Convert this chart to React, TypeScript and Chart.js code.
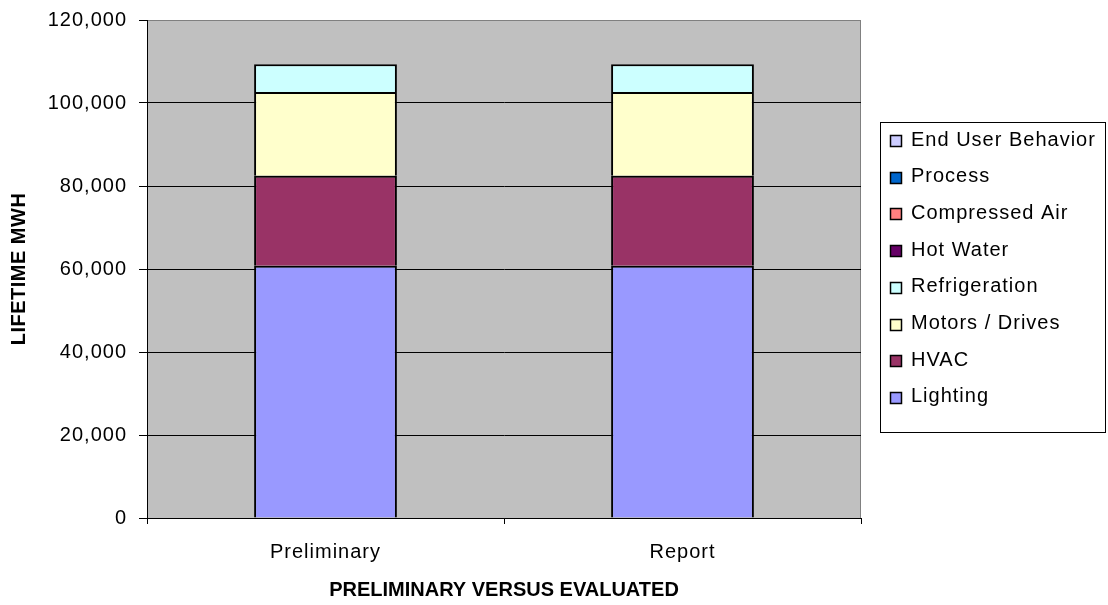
import React, { useEffect, useRef } from "react";
import { Chart, registerables } from "chart.js";

Chart.register(...registerables);

// ---- data ----
const categories = ["Preliminary", "Report"];
const seriesNames = [
  "Lighting",
  "HVAC",
  "Motors / Drives",
  "Refrigeration",
  "Hot Water",
  "Compressed Air",
  "Process",
  "End User Behavior",
];
const seriesColors = [
  "#9999FF",
  "#993366",
  "#FFFFCC",
  "#CCFFFF",
  "#660066",
  "#FF8080",
  "#0066CC",
  "#CCCCFF",
];
const lighting = [60760, 60760];
const hvac = [21700, 21700];
const motorsDrives = [20180, 20180];
const refrigeration = [6680, 6680];
const hotWater = [0, 0];
const compressedAir = [0, 0];
const processLoad = [0, 0];
const endUserBehavior = [0, 0];
const seriesValues = [
  lighting,
  hvac,
  motorsDrives,
  refrigeration,
  hotWater,
  compressedAir,
  processLoad,
  endUserBehavior,
];
const yMin = 0;
const yMax = 120000;
const yStep = 20000;
const xTitle = "PRELIMINARY VERSUS EVALUATED";
const yTitle = "LIFETIME MWH";

const FONT = '"Liberation Sans", Arial, sans-serif';

const plotBg = {
  id: "plotBg",
  beforeDraw(chart: any) {
    const { ctx, chartArea: a } = chart;
    ctx.save();
    ctx.fillStyle = "#C0C0C0";
    ctx.fillRect(a.left, a.top, a.right - a.left, a.bottom - a.top);
    ctx.strokeStyle = "#808080";
    ctx.lineWidth = 1;
    ctx.strokeRect(a.left + 0.5, a.top + 0.5, a.right - a.left - 1, a.bottom - a.top);
    ctx.restore();
    ctx.letterSpacing = "1px";
    for (const id of Object.keys(chart.scales)) {
      const s = chart.scales[id];
      if (!s.__patched) {
        const orig = s.drawTitle;
        const sp = id === "y" ? "0.5px" : "0px";
        s.drawTitle = function (...args: any[]) {
          const c = this.ctx;
          const prev = c.letterSpacing;
          c.letterSpacing = sp;
          orig.apply(this, args);
          c.letterSpacing = prev;
        };
        s.__patched = true;
      }
    }
  },
};

const boxLegend = {
  id: "boxLegend",
  afterDraw(chart: any) {
    const { ctx } = chart;
    const left = 880;
    const top = 122;
    const width = 225;
    const height = 310;
    const firstRow = 141;
    const rowStep = 36.7;
    const marker = 12;
    ctx.save();
    ctx.letterSpacing = "1px";
    ctx.fillStyle = "#FFFFFF";
    ctx.fillRect(left, top, width, height);
    ctx.strokeStyle = "#000000";
    ctx.lineWidth = 1;
    ctx.strokeRect(left + 0.5, top + 0.5, width, height);
    const ds = chart.data.datasets;
    ctx.font = `20px ${FONT}`;
    ctx.textBaseline = "middle";
    ctx.textAlign = "left";
    for (let i = 0; i < ds.length; i++) {
      const d = ds[ds.length - 1 - i];
      const cy = firstRow + i * rowStep;
      const mx = 890;
      const my = Math.round(cy - marker / 2);
      ctx.fillStyle = d.backgroundColor;
      ctx.fillRect(mx, my, marker, marker);
      ctx.strokeStyle = "#000000";
      ctx.lineWidth = 1.5;
      ctx.strokeRect(mx + 0.5, my + 0.5, marker - 1, marker - 1);
      ctx.fillStyle = "#000000";
      ctx.fillText(d.label, 911, cy - 1);
    }
    ctx.restore();
  },
};

export default function App() {
  const ref = useRef<HTMLCanvasElement | null>(null);
  useEffect(() => {
    if (!ref.current) return;
    const chart = new Chart(ref.current, {
      type: "bar",
      data: {
        labels: categories,
        datasets: seriesNames.map((name, i) => ({
          label: name,
          data: seriesValues[i],
          backgroundColor: seriesColors[i],
          borderColor: "#000000",
          borderWidth: 2,
          barPercentage: 0.4,
          categoryPercentage: 1.0,
        })),
      },
      options: {
        responsive: false,
        animation: false,
        devicePixelRatio: 1,
        layout: { padding: { left: 0, top: 20, right: 247, bottom: 0 } },
        plugins: {
          legend: { display: false },
          tooltip: { enabled: false },
          title: { display: false },
        },
        scales: {
          x: {
            stacked: true,
            grid: {
              offset: true,
              drawOnChartArea: false,
              drawTicks: true,
              tickLength: 6,
              color: "#000000",
            },
            border: { color: "#000000", width: 1 },
            ticks: {
              color: "#000000",
              font: { family: FONT, size: 20 },
              padding: 16,
            },
            title: {
              display: true,
              text: xTitle,
              color: "#000000",
              font: { family: FONT, size: 20, weight: "bold" },
              padding: { top: 0, bottom: 3 },
            },
            afterFit(scale: any) {
              scale.height = 87;
              scale.paddingLeft = 0;
              scale.paddingRight = 0;
            },
          },
          y: {
            stacked: true,
            min: yMin,
            max: yMax,
            ticks: {
              stepSize: yStep,
              color: "#000000",
              font: { family: FONT, size: 20 },
              padding: 12,
            },
            grid: {
              color: (c: any) =>
                c.tick && c.tick.value === yMax ? "#808080" : "#000000",
              tickColor: "#000000",
              tickLength: 8,
              lineWidth: 1,
            },
            border: { color: "#000000", width: 1 },
            title: {
              display: true,
              text: yTitle,
              color: "#000000",
              font: { family: FONT, size: 20, weight: "bold" },
              padding: { top: 7, bottom: 0 },
            },
            afterFit(scale: any) {
              scale.width = 147;
              scale.paddingTop = 0;
              scale.paddingBottom = 0;
            },
          },
        },
      } as any,
      plugins: [plotBg, boxLegend],
    });
    return () => chart.destroy();
  }, []);
  return (
    <div
      style={{
        position: "fixed",
        left: 0,
        top: 0,
        width: 1108,
        height: 605,
        background: "#FFFFFF",
      }}
    >
      <canvas ref={ref} width={1108} height={605} />
    </div>
  );
}
